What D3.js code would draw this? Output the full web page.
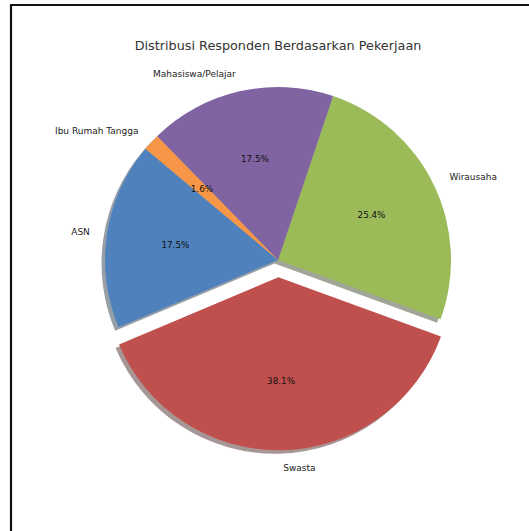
<!DOCTYPE html>
<html>
<head>
<meta charset="utf-8">
<script src="https://cdn.jsdelivr.net/npm/d3@7"></script>
<style>
  html, body { margin: 0; padding: 0; background: #fff; }
  svg { display: block; }
</style>
</head>
<body>
<svg id="chart" width="529" height="531"></svg>
<script>
// ---- data ----
const title = "Distribusi Responden Berdasarkan Pekerjaan";
const categories = ["ASN", "Swasta", "Wirausaha", "Mahasiswa/Pelajar", "Ibu Rumah Tangga"];
const values = [11, 24, 16, 11, 1];
const colors = ["#4F81BD", "#C0504D", "#9BBB59", "#8064A2", "#F79646"];
const explode = [0, 0.1, 0, 0, 0];

// ---- layout ----
const W = 529, H = 531;
const cx = 278, cy = 260, R = 173;
const startDeg = 140; // matplotlib-style start angle, counterclockwise

const svg = d3.select("#chart");
svg.append("rect").attr("width", W).attr("height", H).attr("fill", "#fff");
// frame (left and top only visible)
svg.append("path").attr("d", `M11,${H} L11,5 L${W},5`).attr("fill", "none")
  .attr("stroke", "#111").attr("stroke-width", 2.2);

svg.append("text").attr("x", 278).attr("y", 45)
  .attr("text-anchor", "middle").attr("dominant-baseline", "central")
  .attr("font-family", "DejaVu Sans, sans-serif").attr("font-size", 12.8)
  .attr("fill", "#333").text(title);

const data = categories.map((c, i) => ({ name: c, value: values[i], color: colors[i], explode: explode[i] }));
const total = d3.sum(values);

const a0 = (90 - startDeg) * Math.PI / 180;
const pie = d3.pie().value(d => d.value).sort(null)
  .startAngle(a0).endAngle(a0 - 2 * Math.PI);
const arcs = pie(data);
const arc = d3.arc().innerRadius(0).outerRadius(R);

const g = svg.append("g").attr("transform", `translate(${cx},${cy})`);

function offset(d, dist) {
  const m = (d.startAngle + d.endAngle) / 2;
  return [Math.sin(m) * dist, -Math.cos(m) * dist];
}

// shadows
const sh = 0.02 * R;
g.selectAll("path.shadow").data(arcs).enter().append("path")
  .attr("class", "shadow")
  .attr("d", arc)
  .attr("transform", d => { const o = offset(d, d.data.explode * R); return `translate(${o[0] - sh},${o[1] + sh})`; })
  .attr("fill", d => { const c = d3.rgb(d.data.color); return d3.rgb(c.r * 0.3, c.g * 0.3, c.b * 0.3); })
  .attr("opacity", 0.45);

// wedges
g.selectAll("path.wedge").data(arcs).enter().append("path")
  .attr("class", "wedge")
  .attr("d", arc)
  .attr("transform", d => { const o = offset(d, d.data.explode * R); return `translate(${o[0]},${o[1]})`; })
  .attr("fill", d => d.data.color);

// labels
g.selectAll("text.lab").data(arcs).enter().append("text")
  .attr("class", "lab")
  .each(function(d) {
    const e = offset(d, d.data.explode * R);
    const p = offset(d, 1.1 * R);
    const x = e[0] + p[0], y = e[1] + p[1];
    d3.select(this).attr("x", x).attr("y", y)
      .attr("text-anchor", x > 0 ? "start" : "end");
  })
  .attr("dominant-baseline", "central")
  .attr("font-family", "DejaVu Sans, sans-serif").attr("font-size", 9)
  .attr("fill", "#222")
  .text(d => d.data.name);

// percentages
g.selectAll("text.pct").data(arcs).enter().append("text")
  .attr("class", "pct")
  .each(function(d) {
    const e = offset(d, d.data.explode * R);
    const p = offset(d, 0.6 * R);
    d3.select(this).attr("x", e[0] + p[0]).attr("y", e[1] + p[1]);
  })
  .attr("text-anchor", "middle").attr("dominant-baseline", "central")
  .attr("font-family", "DejaVu Sans, sans-serif").attr("font-size", 8.8)
  .attr("fill", "#111")
  .text(d => (d.data.value / total * 100).toFixed(1) + "%");
</script>
</body>
</html>
